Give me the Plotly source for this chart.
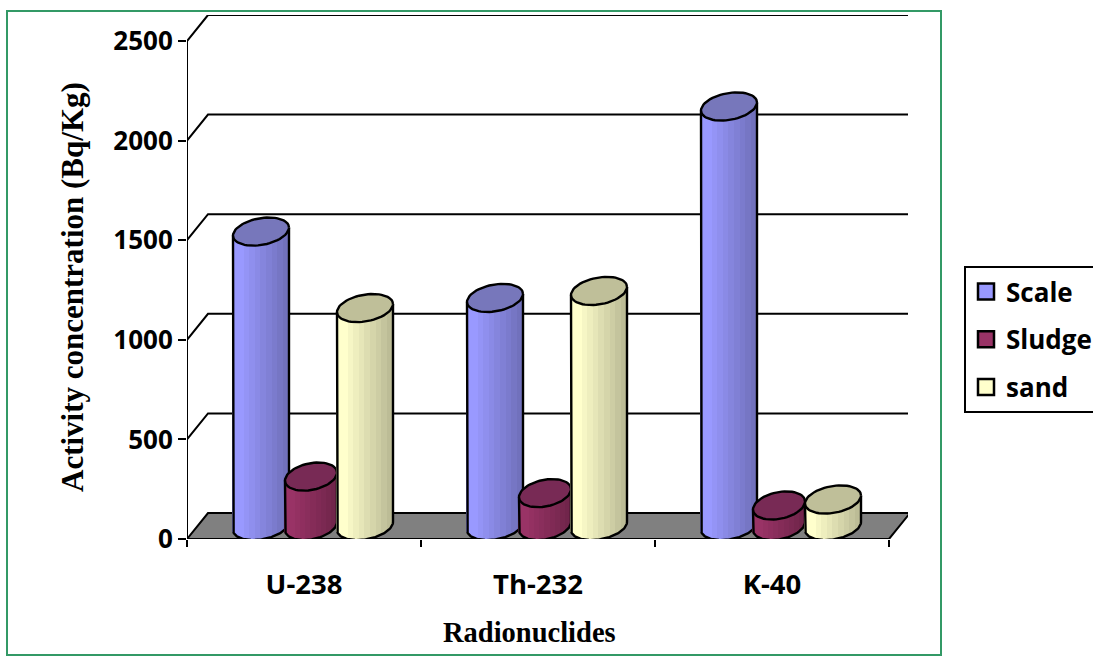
import math
import plotly.graph_objects as go

# ---- data ----
categories = ["U-238", "Th-232", "K-40"]
scale_values = [1478, 1145, 2106]
sludge_values = [248, 165, 103]
sand_values = [1094, 1180, 133]
y_ticks = [0, 500, 1000, 1500, 2000, 2500]
series_names = ["Scale", "Sludge", "sand"]

# ---- style ----
W, H = 1093, 666
L, R, T, B = 187, 908, 15, 539      # plot rectangle, pixels
PX_X = 1 / 234.0                    # category units per pixel
PX_Y = 2500 / 498.0                 # value units per pixel
DX, DY = 21 * PX_X, 26 * PX_Y       # depth of the 3-D box
BASE = 13 * PX_Y                    # base ellipse centre above the floor line
SHEAR = 4 * PX_Y
HALF_H = 13.5 * PX_Y
OFFSETS = [74 * PX_X, 124 * PX_X, 178 * PX_X]
HALF_W = [28, 26, 28]
BODY = ["#9999FF", "#993366", "#FFFFCC"]
TOP = ["#7777BB", "#782A55", "#BFBF99"]
TICK_FONT = dict(family="Open Sans", size=26, color="black", weight=700)
XTICK_FONT = dict(family="Open Sans", size=27.5, color="black", weight=700)
SERIF_Y = dict(family="Liberation Serif", size=31, color="black", weight=700)
SERIF_X = dict(family="Liberation Serif", size=28.5, color="black", weight=700)


def rgb(hexstr, k):
    return "rgb(%d,%d,%d)" % tuple(int(int(hexstr[i:i + 2], 16) * k) for i in (1, 3, 5))


fig = go.Figure()


def line(xs, ys, z, width=2, fill=None, fillcolor=None):
    fig.add_trace(go.Scatter(x=xs, y=ys, mode="lines", showlegend=False, hoverinfo="skip",
                             line=dict(color="black", width=width), cliponaxis=False,
                             fill=fill, fillcolor=fillcolor, zorder=z))


# floor
line([0, DX, 3 + DX, 3, 0], [0, DY, DY, 0, 0], -3, fill="toself", fillcolor="#808080")
# back wall grid and side wall diagonals
for v in y_ticks[1:]:
    line([0, DX, 3 + DX], [v, v + DY, v + DY], -2)
# axes
line([0, 0], [0, 2500], -1)
line([0, 3], [0, 0], -1)

# cylinders
z = 0
all_values = [scale_values, sludge_values, sand_values]
for c in range(len(categories)):
    for s, vals in enumerate(all_values):
        value = vals[c]
        a = HALF_W[s]
        cx = c + OFFSETS[s]
        xs, bases, heights, colors = [], [], [], []
        for i in range(2 * a):
            u = (i + 0.5 - a) / a
            root = math.sqrt(1 - u * u)
            low = BASE + SHEAR * u - HALF_H * root
            high = value + BASE + SHEAR * u
            xs.append(cx + (i + 0.5 - a) * PX_X)
            bases.append(low)
            heights.append(high - low)
            band = int(i / (2 * a) * 10)
            colors.append(rgb(BODY[s], 1 - 0.26 * max(0, band - 1) / 8))
        fig.add_trace(go.Bar(x=xs, y=heights, base=bases, width=PX_X * 1.02, showlegend=False,
                             hoverinfo="skip", marker=dict(color=colors, line=dict(width=0)),
                             zorder=z))
        z += 1
        n = 60
        ang = [2 * math.pi * k / n for k in range(n + 1)]
        # body outline: left edge, lower half of the base, right edge
        ox = [cx - a * PX_X]
        oy = [value + BASE - SHEAR]
        for k in range(n + 1):
            t = math.pi * k / n
            ox.append(cx - a * PX_X * math.cos(t))
            oy.append(BASE - SHEAR * math.cos(t) - HALF_H * math.sin(t))
        ox.append(cx + a * PX_X)
        oy.append(value + BASE + SHEAR)
        line(ox, oy, z, width=2.4)
        z += 1
        # top ellipse
        ex = [cx + a * PX_X * math.cos(t) for t in ang]
        ey = [value + BASE + SHEAR * math.cos(t) + HALF_H * math.sin(t) for t in ang]
        line(ex, ey, z, width=2.4, fill="toself", fillcolor=TOP[s])
        z += 1

# legend entries
for s, name in enumerate(series_names):
    fig.add_trace(go.Scatter(x=[None], y=[None], mode="markers", name=name, legendgroup=name,
                             marker=dict(symbol="square", size=16, color=BODY[s],
                                         line=dict(color="black", width=2.5))))

fig.update_layout(
    width=W, height=H, autosize=False, paper_bgcolor="white", plot_bgcolor="white",
    margin=dict(l=L, r=W - R, t=T, b=H - B, autoexpand=False),
    barmode="overlay", bargap=0,
    showlegend=True,
    legend=dict(xref="container", yref="container", x=964 / W, y=1 - 266 / H,
                xanchor="left", yanchor="top", bordercolor="black", borderwidth=2,
                bgcolor="white", tracegroupgap=11, itemsizing="trace",
                font=dict(family="Open Sans", size=26, color="black", weight=700),
                entrywidth=170, entrywidthmode="pixels"),
    xaxis=dict(range=[0, (R - L) * PX_X], tickmode="array", tickvals=[0.5, 1.5, 2.5],
               ticktext=categories, ticks="", showgrid=False, zeroline=False, showline=False,
               tickfont=XTICK_FONT, ticklabelstandoff=26,
               minor=dict(tickmode="array", tickvals=[0, 1, 2, 3], ticks="outside", ticklen=7,
                          tickwidth=2, tickcolor="black", showgrid=False)),
    yaxis=dict(range=[0, (B - T) * PX_Y], tickmode="array", tickvals=y_ticks, ticks="outside",
               ticklen=8, tickwidth=2, tickcolor="black", showgrid=False, zeroline=False,
               showline=False, tickfont=TICK_FONT),
    shapes=[dict(type="rect", xref="paper", yref="paper",
                 x0=(7 - L) / (R - L), x1=(941 - L) / (R - L),
                 y0=(B - 655) / (B - T), y1=(B - 11) / (B - T),
                 line=dict(color="#339966", width=2), layer="below")],
    annotations=[
        dict(text="Activity concentration (Bq/Kg)", textangle=-90, font=SERIF_Y, showarrow=False,
             xref="paper", yref="paper", x=(72 - L) / (R - L), y=(B - 287) / (B - T),
             xanchor="center", yanchor="middle"),
        dict(text="Radionuclides", font=SERIF_X, showarrow=False,
             xref="paper", yref="paper", x=(529 - L) / (R - L), y=(B - 632) / (B - T),
             xanchor="center", yanchor="middle"),
    ],
)

fig.write_html("out.html", config=dict(displayModeBar=False),
               post_script="document.body.style.margin='0';document.body.style.overflow='hidden';")
